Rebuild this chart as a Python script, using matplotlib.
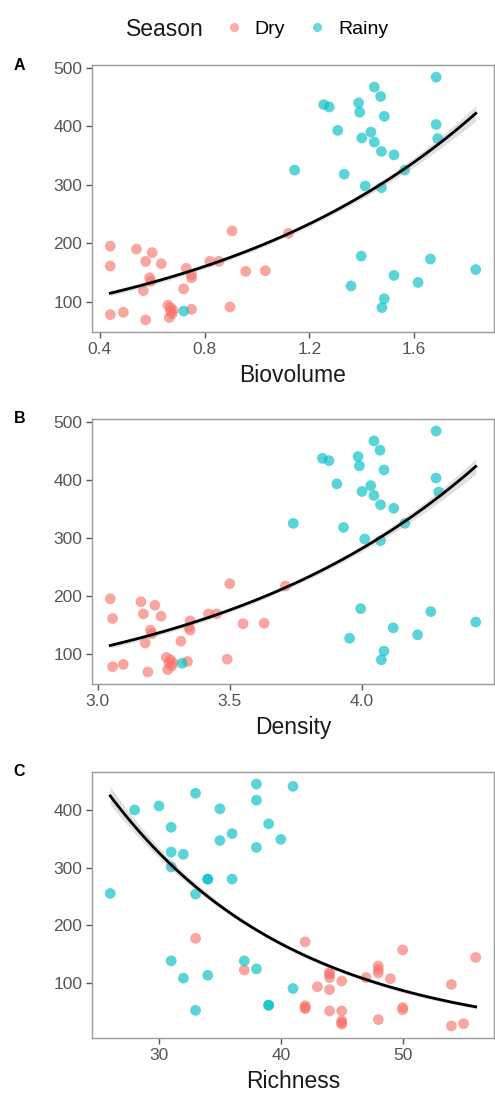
import numpy as np
import matplotlib
matplotlib.use("Agg")
import matplotlib.pyplot as plt
from matplotlib.lines import Line2D

plt.rcParams['font.family'] = ['Liberation Sans', 'DejaVu Sans']

# ---- data ----
seasons = ['Dry', 'Rainy']
season_colors = {'Dry': '#F8766D', 'Rainy': '#00BFC4'}

# response shared by panels A and B
dry_y = [195, 161, 78, 82, 190, 69, 169, 184, 165, 141, 135, 119, 94, 84, 85,
         73, 79, 122, 157, 141, 146, 87, 169, 169, 221, 91, 152, 153, 217, 90]
rainy_y = [84, 325, 437, 433, 393, 318, 127, 440, 424, 380, 178, 298, 390, 373, 467,
           451, 357, 295, 417, 105, 90, 351, 145, 325, 133, 173, 484, 403, 379, 155]

dry_biovol = [0.44, 0.44, 0.44, 0.49, 0.54, 0.575, 0.575, 0.60, 0.635, 0.59, 0.595,
              0.566, 0.66, 0.67, 0.68, 0.665, 0.675, 0.72, 0.73, 0.75, 0.75, 0.75,
              0.82, 0.855, 0.905, 0.897, 0.957, 1.032, 1.12, 0.67]
rainy_biovol = [0.72, 1.144, 1.255, 1.276, 1.308, 1.333, 1.359, 1.388, 1.392, 1.40,
                1.398, 1.413, 1.435, 1.448, 1.448, 1.472, 1.475, 1.475, 1.486, 1.486,
                1.477, 1.523, 1.523, 1.564, 1.615, 1.662, 1.684, 1.684, 1.69, 1.835]

dry_density = [3.048, 3.057, 3.057, 3.097, 3.164, 3.19, 3.173, 3.217, 3.24, 3.20, 3.205,
               3.18, 3.26, 3.27, 3.285, 3.265, 3.28, 3.315, 3.35, 3.35, 3.345, 3.34,
               3.42, 3.45, 3.50, 3.49, 3.55, 3.63, 3.71, 3.275]
rainy_density = [3.32, 3.74, 3.85, 3.875, 3.905, 3.93, 3.953, 3.985, 3.99, 4.0,
                 3.995, 4.01, 4.033, 4.045, 4.045, 4.068, 4.07, 4.07, 4.083, 4.083,
                 4.073, 4.12, 4.118, 4.162, 4.21, 4.26, 4.28, 4.28, 4.29, 4.43]

# panel C
dry_rich = [33, 37, 42, 42, 42, 42, 43, 44, 44, 44, 44, 44, 45, 45, 45,
            45, 45, 47, 48, 48, 48, 48, 49, 50, 50, 50, 54, 54, 55, 56]
dry_c = [177, 122, 171, 60, 55, 57, 93, 118, 109, 88, 51, 115, 103, 51, 34,
         28, 31, 109, 129, 117, 36, 123, 107, 157, 57, 53, 97, 25, 29, 144]
rainy_rich = [26, 28, 30, 31, 31, 31, 32, 33, 33, 34, 34, 35, 35, 36, 36,
              38, 38, 38, 39, 40, 41, 31, 32, 34, 33, 37, 38, 39, 39, 41]
rainy_c = [255, 400, 407, 370, 327, 301, 323, 429, 254, 280, 280, 402, 347, 359, 280,
           445, 417, 335, 376, 349, 441, 138, 108, 113, 52, 138, 124, 61, 61, 90]

x_ticks_a = [0.4, 0.8, 1.2, 1.6]
x_ticks_b = [3.0, 3.5, 4.0]
x_ticks_c = [30, 40, 50]
y_ticks_ab = [100, 200, 300, 400, 500]
y_ticks_c = [100, 200, 300, 400]


def poisson_glm(x, y):
    # IRLS for y ~ x with log link (what geom_smooth(method="glm", poisson) does)
    X = np.column_stack([np.ones_like(x), x])
    beta = np.array([np.log(y.mean()), 0.0])
    for _ in range(100):
        mu = np.exp(X @ beta)
        z = X @ beta + (y - mu) / mu
        XtW = X.T * mu
        new = np.linalg.solve(XtW @ X, XtW @ z)
        if np.allclose(new, beta, atol=1e-10):
            beta = new
            break
        beta = new
    mu = np.exp(X @ beta)
    cov = np.linalg.inv((X.T * mu) @ X)
    return beta, cov


def draw_panel(ax, xd, yd, xr, yr, xlabel, xticks, yticks, letter):
    xd, yd, xr, yr = map(np.asarray, (xd, yd, xr, yr))
    for xs, ys, s in [(xd, yd, 'Dry'), (xr, yr, 'Rainy')]:
        ax.scatter(xs, ys, s=60, color=season_colors[s], alpha=0.65,
                   edgecolors='none', zorder=2)

    x_all = np.concatenate([xd, xr])
    y_all = np.concatenate([yd, yr])
    beta, cov = poisson_glm(x_all, y_all)
    grid = np.linspace(x_all.min(), x_all.max(), 100)
    G = np.column_stack([np.ones_like(grid), grid])
    eta = G @ beta
    se = np.sqrt(np.einsum('ij,jk,ik->i', G, cov, G))
    ax.fill_between(grid, np.exp(eta - 1.96 * se), np.exp(eta + 1.96 * se),
                    color='#999999', alpha=0.3, lw=0, zorder=3)
    ax.plot(grid, np.exp(eta), color='black', lw=2, zorder=4)

    # ggplot-like 5% expansion
    xr_ = x_all.max() - x_all.min()
    yr_ = y_all.max() - y_all.min()
    ax.set_xlim(x_all.min() - 0.05 * xr_, x_all.max() + 0.05 * xr_)
    ax.set_ylim(y_all.min() - 0.05 * yr_, y_all.max() + 0.05 * yr_)

    ax.set_xticks(xticks)
    ax.set_yticks(yticks)
    if isinstance(xticks[0], float):
        ax.set_xticklabels([f'{t:.1f}' for t in xticks])
    ax.set_xlabel(xlabel, fontsize=16.5, color='#1a1a1a', labelpad=5)
    ax.tick_params(axis='both', length=4, width=1, color='#555555',
                   labelsize=12.5, labelcolor='#555555', pad=3)
    for sp in ax.spines.values():
        sp.set_color('#9a9a9a')
        sp.set_linewidth(1)
    ax.text(-0.195, 1.0, letter, transform=ax.transAxes, fontsize=11.5,
            fontweight='bold', ha='left', va='center', color='black')


fig = plt.figure(figsize=(4.95, 10.95), dpi=100)
left, width = 92 / 495, 402 / 495
ax_a = fig.add_axes([left, 1 - 332 / 1095, width, 267 / 1095])
ax_b = fig.add_axes([left, 1 - 684 / 1095, width, 265 / 1095])
ax_c = fig.add_axes([left, 1 - 1038 / 1095, width, 266 / 1095])

draw_panel(ax_a, dry_biovol, dry_y, rainy_biovol, rainy_y, 'Biovolume',
           x_ticks_a, y_ticks_ab, 'A')
draw_panel(ax_b, dry_density, dry_y, rainy_density, rainy_y, 'Density',
           x_ticks_b, y_ticks_ab, 'B')
draw_panel(ax_c, dry_rich, dry_c, rainy_rich, rainy_c, 'Richness',
           x_ticks_c, y_ticks_c, 'C')

# legend on top
fig.text(126 / 495, 1 - 29 / 1095, 'Season', fontsize=16.5, ha='left',
         va='center', color='#1a1a1a')
handles = [Line2D([0], [0], marker='o', ls='none', markersize=6.5,
                  markerfacecolor=season_colors[s], markeredgecolor='none',
                  alpha=0.6, label=s) for s in seasons]
fig.legend(handles=handles, ncol=2, loc='center left',
           bbox_to_anchor=(224 / 495, 1 - 29 / 1095), frameon=False,
           fontsize=14, handlelength=1.0, handletextpad=0.58,
           columnspacing=1.15, borderaxespad=0, borderpad=0)

fig.savefig('out.png', dpi=100, facecolor='white')
